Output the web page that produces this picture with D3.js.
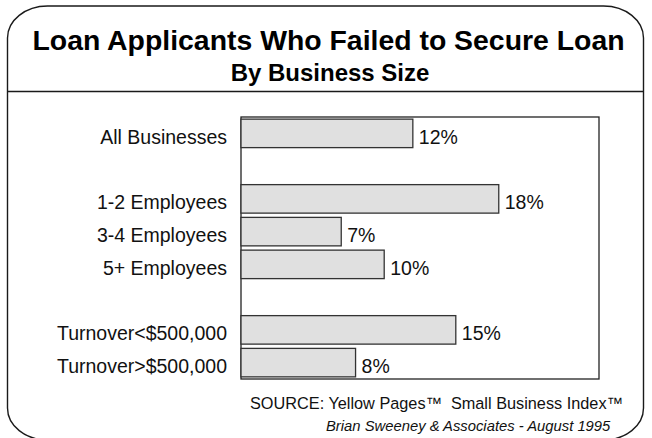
<!DOCTYPE html>
<html>
<head>
<meta charset="utf-8">
<script src="https://cdn.jsdelivr.net/npm/d3@7"></script>
<style>
  html, body { margin: 0; padding: 0; background: #fff; }
  svg { display: block; font-family: "Liberation Sans", Arial, Helvetica, sans-serif; }
</style>
</head>
<body>
<svg id="chart" width="652" height="438"></svg>
<script>
// Row labels; null marks a spacer row between groups
const categories = [
  "All Businesses",
  null,
  "1-2 Employees",
  "3-4 Employees",
  "5+ Employees",
  null,
  "Turnover<$500,000",
  "Turnover>$500,000"
];
// Share of applicants who failed to secure a loan (%)
const failedPct = [12, null, 18, 7, 10, null, 15, 8];

const title = "Loan Applicants Who Failed to Secure Loan";
const subtitle = "By Business Size";
const sourceLine = "SOURCE: Yellow Pages\u2122  Small Business Index\u2122";
const creditLine = "Brian Sweeney & Associates - August 1995";

const svg = d3.select("#chart");

// Rounded outer card
svg.append("rect")
  .attr("x", 7.5).attr("y", 6)
  .attr("width", 636).attr("height", 434)
  .attr("rx", 40).attr("ry", 32)
  .attr("fill", "#fff")
  .attr("stroke", "#1a1a1a")
  .attr("stroke-width", 1.4);

// Title block
svg.append("text")
  .attr("x", 328.5).attr("y", 50)
  .attr("text-anchor", "middle")
  .attr("font-size", 28.4).attr("font-weight", "bold")
  .attr("fill", "#000")
  .text(title);

svg.append("text")
  .attr("x", 330).attr("y", 81)
  .attr("text-anchor", "middle")
  .attr("font-size", 24).attr("font-weight", "bold")
  .attr("fill", "#000")
  .text(subtitle);

// Divider under the heading
svg.append("line")
  .attr("x1", 7.5).attr("x2", 643.5)
  .attr("y1", 91.5).attr("y2", 91.5)
  .attr("stroke", "#1a1a1a")
  .attr("stroke-width", 1.5);

// Scales
const x = d3.scaleLinear().domain([0, 25]).range([241, 599]);
const y = d3.scaleBand()
  .domain(d3.range(categories.length))
  .range([117, 379])
  .paddingInner(0.13)
  .paddingOuter(0.065);

// Plot frame
svg.append("rect")
  .attr("x", x(0)).attr("y", 117)
  .attr("width", x(25) - x(0)).attr("height", 379 - 117)
  .attr("fill", "none")
  .attr("stroke", "#222")
  .attr("stroke-width", 1.3);

const rows = d3.range(categories.length).filter(i => failedPct[i] != null);

// Bars
svg.append("g")
  .selectAll("rect")
  .data(rows)
  .join("rect")
  .attr("x", x(0))
  .attr("y", i => y(i))
  .attr("width", i => x(failedPct[i]) - x(0))
  .attr("height", y.bandwidth())
  .attr("fill", "#e0e0e0")
  .attr("stroke", "#333")
  .attr("stroke-width", 1.3);

// Value labels
svg.append("g")
  .selectAll("text")
  .data(rows)
  .join("text")
  .attr("x", i => x(failedPct[i]) + 6)
  .attr("y", i => y(i) + y.bandwidth() / 2)
  .attr("dy", "0.53em")
  .attr("font-size", 19.5)
  .attr("fill", "#111")
  .text(i => failedPct[i] + "%");

// Category axis
const axis = d3.axisLeft(y)
  .tickValues(rows)
  .tickFormat(i => categories[i])
  .tickSize(0)
  .tickPadding(14);

const gAxis = svg.append("g")
  .attr("transform", `translate(${x(0)},0)`)
  .call(axis);
gAxis.select(".domain").remove();
gAxis.selectAll("text")
  .attr("font-size", 19.5)
  .attr("font-family", "'Liberation Sans', Arial, Helvetica, sans-serif")
  .attr("fill", "#111")
  .attr("dy", "0.53em");

// Source notes
svg.append("text")
  .attr("x", 250).attr("y", 409)
  .attr("font-size", 16.3)
  .attr("fill", "#111")
  .style("white-space", "pre")
  .text(sourceLine);

svg.append("text")
  .attr("x", 326).attr("y", 431)
  .attr("font-size", 14.8)
  .attr("font-style", "italic")
  .attr("fill", "#111")
  .text(creditLine);
</script>
</body>
</html>
